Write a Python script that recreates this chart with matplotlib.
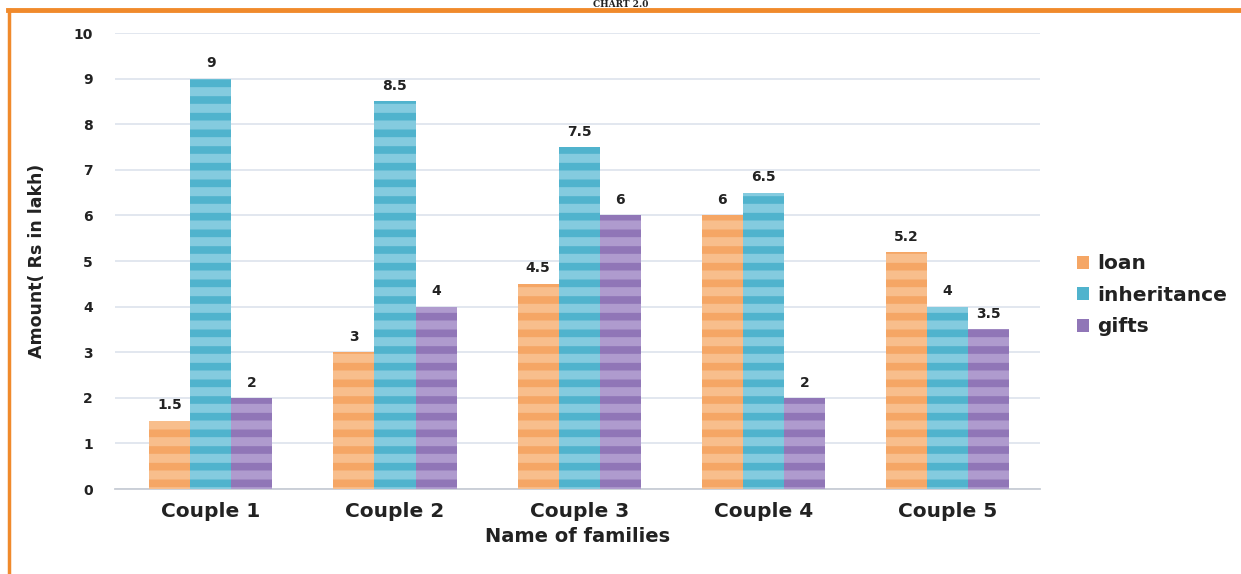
import matplotlib
matplotlib.use("Agg")
import matplotlib.pyplot as plt
import numpy as np

# Data
couples = ["Couple 1", "Couple 2", "Couple 3", "Couple 4", "Couple 5"]
loan = [1.5, 3, 4.5, 6, 5.2]
inheritance = [9, 8.5, 7.5, 6.5, 4]
gifts = [2, 4, 6, 2, 3.5]
series_names = ["loan", "inheritance", "gifts"]

# base colour, stripe colour
colors = [("#F5A665", "#F8BE8C"), ("#50B3CD", "#84CBDF"), ("#9076B7", "#AF9BCE")]

plt.rcParams["hatch.linewidth"] = 6.5
plt.rcParams["font.family"] = "DejaVu Sans"

fig = plt.figure(figsize=(12.41, 5.74), dpi=100)
ax = fig.add_axes([0.0927, 0.148, 0.745, 0.7945])

x = np.arange(len(couples))
width = 0.223
for i, (vals, name) in enumerate(zip([loan, inheritance, gifts], series_names)):
    base, light = colors[i]
    bars = ax.bar(x + (i - 1) * width, vals, width, color=base, edgecolor=light,
                  linewidth=0, hatch="-", label=name, zorder=3)
    labels = [f"{v:g}" for v in vals]
    ax.bar_label(bars, labels=labels, padding=6, fontsize=10, fontweight="bold",
                 color="#222222")

ax.set_xlim(-0.52, 4.5)
ax.set_ylim(0, 10)
ax.set_yticks(range(0, 11))
ax.yaxis.grid(True, color="#DDE3EC", linewidth=1.2, zorder=0)
ax.set_axisbelow(True)
for s in ["top", "right", "left"]:
    ax.spines[s].set_visible(False)
ax.spines["bottom"].set_color("#C8CDD5")
ax.spines["bottom"].set_linewidth(1.3)
ax.tick_params(axis="both", length=0)
ax.tick_params(axis="y", pad=16, labelsize=10, labelcolor="#222222")
ax.tick_params(axis="x", pad=9, labelsize=14.5, labelcolor="#222222")
for lab in ax.get_yticklabels() + ax.get_xticklabels():
    lab.set_fontweight("bold")
ax.set_xticks(x)
ax.set_xticklabels(couples)

ax.set_xlabel("Name of families", fontsize=14, fontweight="bold", color="#222222", labelpad=5)
ax.set_ylabel("Amount( Rs in lakh)", fontsize=12.5, fontweight="bold", color="#222222",
              labelpad=20)

leg = ax.legend(loc="center left", bbox_to_anchor=(1.021, 0.425), frameon=False,
                fontsize=14.5, handlelength=0.6, handleheight=0.6, handletextpad=0.4,
                labelspacing=0.62)
for t in leg.get_texts():
    t.set_fontweight("bold")
    t.set_color("#222222")
for h in leg.legend_handles:
    h.set_hatch(None)

# orange frame on top and left, and the small heading above it
fig.add_artist(plt.Line2D([0.0065, 1.0], [0.982, 0.982], transform=fig.transFigure,
                          color="#F08A2C", linewidth=3.5))
fig.add_artist(plt.Line2D([0.0075, 0.0075], [0.0, 0.982], transform=fig.transFigure,
                          color="#F08A2C", linewidth=2.5))
fig.text(0.5, 0.9995, "CHART 2.0", ha="center", va="top", fontsize=6.5,
         fontweight="bold", family="DejaVu Serif", color="#222222")

fig.savefig("out.png", dpi=100)
